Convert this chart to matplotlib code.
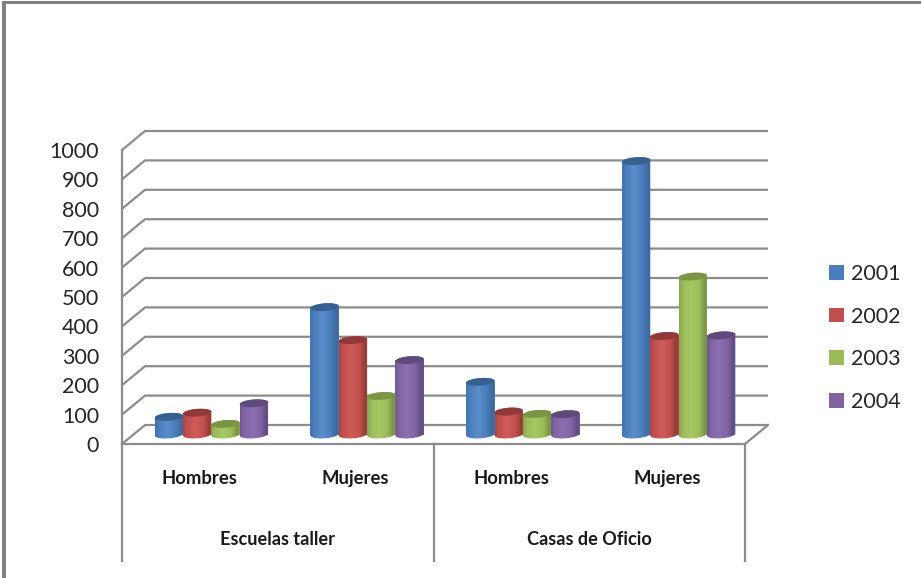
import numpy as np
import matplotlib
matplotlib.use("Agg")
import matplotlib.pyplot as plt
from matplotlib.path import Path
from matplotlib.patches import PathPatch, Rectangle
from matplotlib.colors import to_rgb

groups = ["Escuelas taller", "Casas de Oficio"]
categories = ["Hombres", "Mujeres", "Hombres", "Mujeres"]
years = ["2001", "2002", "2003", "2004"]
v2001 = [60, 433, 179, 930]
v2002 = [74, 321, 78, 335]
v2003 = [36, 131, 70, 537]
v2004 = [106, 253, 69, 337]
series = [v2001, v2002, v2003, v2004]
yticks = list(range(0, 1001, 100))

# (edge-dark, base, highlight, cap)
palette = [
    ("#3F6B9E", "#4A7DBB", "#5A8ECB", "#36608F"),
    ("#963E3B", "#C0504D", "#CF5C59", "#91393A"),
    ("#7A9646", "#9BBB59", "#A6C962", "#7A9645"),
    ("#634D85", "#8064A2", "#8C6FB0", "#5F4A7C"),
]
GRID = "#8C8C8C"

W, H = 921, 578
fig = plt.figure(figsize=(W / 100, H / 100), dpi=100, facecolor="white")
ax = fig.add_axes([122 / W, 1 - 444 / H, (745 - 122) / W, 294 / H])
ax.set_facecolor("none")
for s in ax.spines.values():
    s.set_visible(False)

n = len(categories)
ddx = 23 / (623 / n)      # depth shift in category units
ddy = 19 / 0.294          # depth shift in value units
LW = 1.6

# window frame
fig.add_artist(Rectangle((2 / W, 0), 4 / W, 1 - 1 / H, transform=fig.transFigure, fc="#808080", ec="none"))
fig.add_artist(Rectangle((2 / W, 1 - 4 / H), 1 - 2 / W, 3 / H, transform=fig.transFigure, fc="#808080", ec="none"))

# walls
for v in yticks:
    ax.plot([0, ddx, n + ddx], [v, v + ddy, v + ddy], color=GRID, lw=LW, clip_on=False, zorder=1, solid_capstyle="butt")
ax.plot([n, n + ddx], [0, ddy], color=GRID, lw=LW, clip_on=False, zorder=1)
ax.plot([0, n], [0, 0], color=GRID, lw=LW, clip_on=False, zorder=1)
ax.plot([0, 0], [0, 1000], color=GRID, lw=LW, clip_on=False, zorder=1)

# multi-level category separators
xtr = ax.get_xaxis_transform()
for x in [0, n / 2, n]:
    ax.plot([x, x], [0, -0.398], transform=xtr, color=GRID, lw=LW, clip_on=False, zorder=1)

width = 0.182
a, b, k = width / 2, 13.0, 3.5
base = ddy / 2
t = np.linspace(0, 2 * np.pi, 61)


def ell(cx, cy, tt):
    return np.c_[cx + a * np.cos(tt), cy + k * np.cos(tt) + b * np.sin(tt)]


handles = []
z = 3.0
for j, (vals, cols) in enumerate(zip(series, palette)):
    xs = np.arange(n) + 0.5 + ddx / 2 + (j - 1.5) * width
    bars = ax.bar(xs, vals, width, bottom=base, color=cols[1], label=years[j], zorder=2)
    handles.append(bars[0])
    dark, mid, hi = [np.array(to_rgb(c)) for c in cols[:3]]
    pos = np.array([0, 0.12, 0.42, 0.72, 0.9, 1.0])
    stops = np.array([dark * 0.6 + mid * 0.4, mid, hi, mid, dark, dark * 0.85 + mid * 0.15])
    grad = np.stack([np.interp(np.linspace(0, 1, 64), pos, stops[:, c]) for c in range(3)], axis=1)[None, :, :]
    for cx, v in zip(xs, vals):
        top = base + v
        lower = ell(cx, base, np.linspace(np.pi, 2 * np.pi, 30))
        upper = ell(cx, top, np.linspace(0, np.pi, 30))
        verts = np.vstack([lower, upper, lower[:1]])
        codes = [Path.MOVETO] + [Path.LINETO] * (len(verts) - 2) + [Path.CLOSEPOLY]
        body = PathPatch(Path(verts, codes), fc="none", ec="none", transform=ax.transData)
        ax.add_patch(body)
        im = ax.imshow(grad, extent=[cx - a, cx + a, base - b - k, top + b + k], aspect="auto",
                       zorder=z, interpolation="bilinear")
        im.set_clip_path(body)
        ax.fill(*ell(cx, top, t).T, color=cols[3], lw=0, zorder=z + 0.01, clip_on=False)
        z += 0.05

ax.set_xlim(0, n)
ax.set_ylim(0, 1000)

ax.set_yticks(yticks, [str(v) for v in yticks], fontfamily="Lato", fontsize=15.5, color="#262626")
ax.tick_params(axis="y", length=0, pad=16.5)
ax.set_xticks(np.arange(n) + 0.5, categories, fontfamily="Lato", fontweight="bold", fontsize=13.3, color="#1a1a1a")
ax.tick_params(axis="x", length=0, pad=19)

for i, g in enumerate(groups):
    ax.text(i * n / 2 + n / 4, -0.3235, g, transform=xtr, ha="center", va="center",
            fontfamily="Lato", fontweight="bold", fontsize=13.1, color="#1a1a1a")

ax.legend(handles, years, loc="center left", bbox_to_anchor=(829 / W, 1 - 338 / H), bbox_transform=fig.transFigure,
          frameon=False, prop={"family": "Lato", "size": 15.5}, labelcolor="#262626",
          handlelength=0.68, handleheight=0.68, handletextpad=0.36, labelspacing=1.06, borderpad=0, borderaxespad=0)

fig.savefig("out.png", dpi=100, facecolor="white")
